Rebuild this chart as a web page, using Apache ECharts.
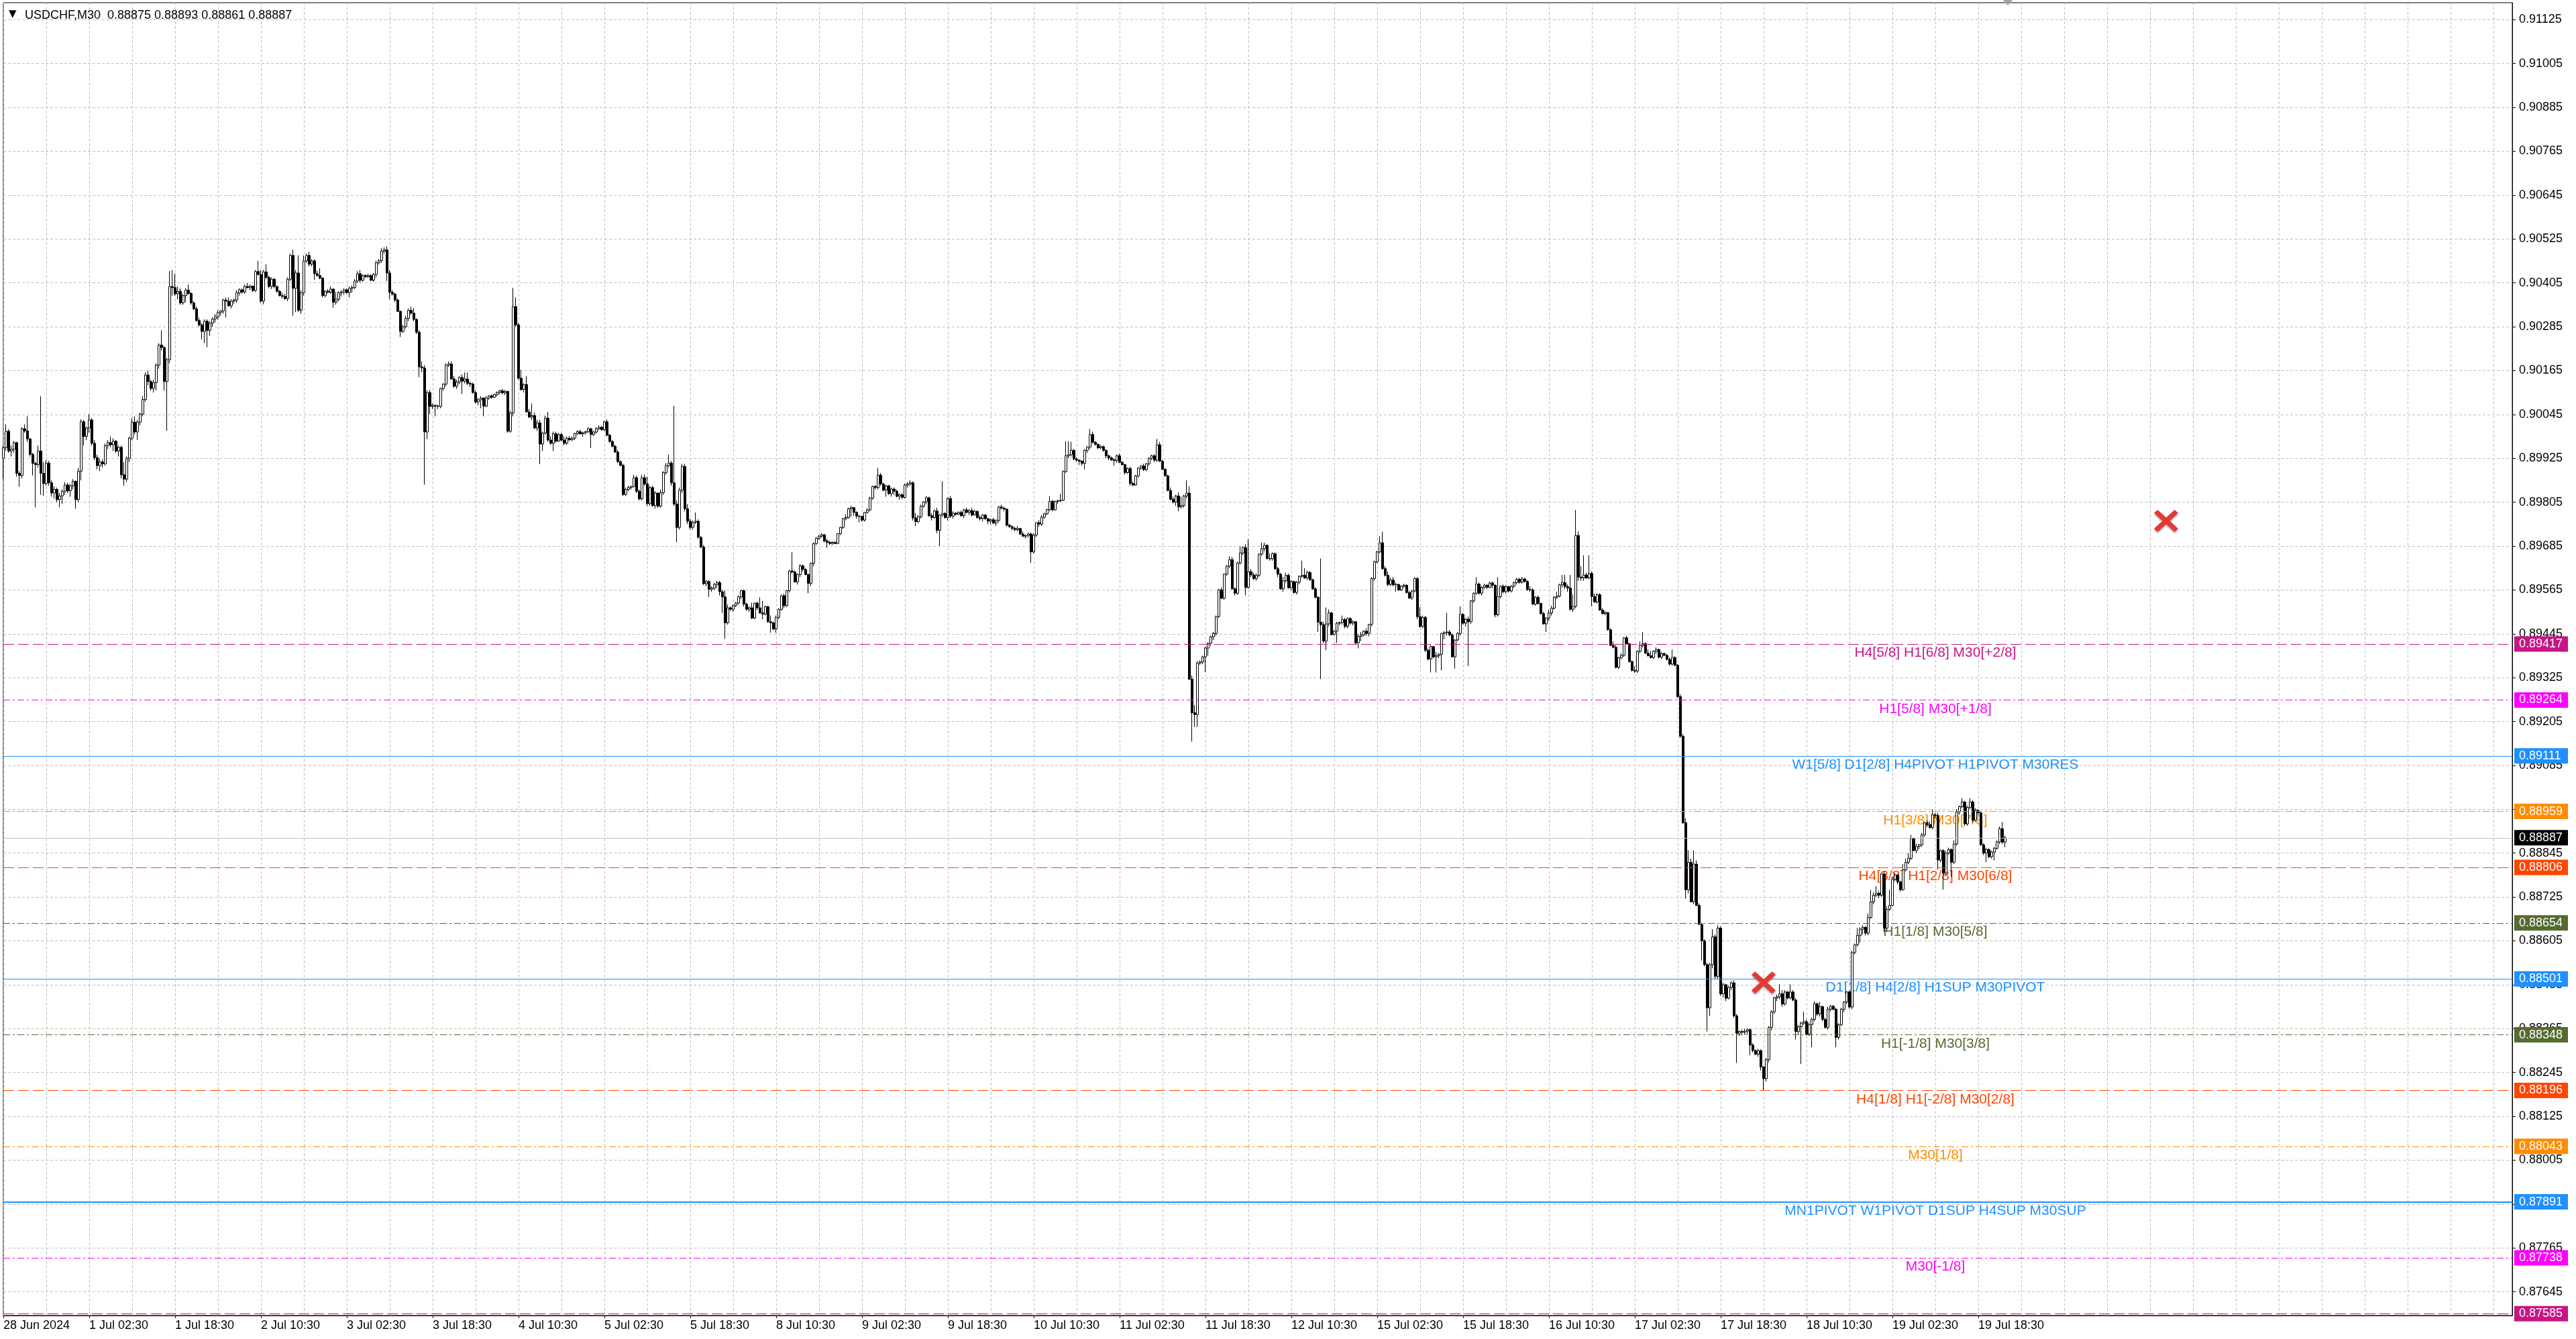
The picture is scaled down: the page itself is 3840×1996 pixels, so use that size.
<!DOCTYPE html>
<html>
<head>
<meta charset="utf-8">
<script src="https://cdn.jsdelivr.net/npm/echarts@6/dist/echarts.min.js"></script>
<style>html,body{margin:0;padding:0;background:#fff;}#chart{width:3840px;height:1996px;}</style>
</head>
<body>
<div id="chart"></div>
<script>
// ---- DATA (prices in points of 0.00001 above BASE) ----
const SYMBOL = 'USDCHF';
const TIMEFRAME = 'M30';
const BASE = 0.88;
const FIRST_BAR_UTC = [2024, 5, 28, 10, 30]; // 28 Jun 2024 10:30
const TOTAL_SLOTS = 936;                       // bar slots shown (incl. empty right shift)

// [open, high, low, close]
const fri28Jun = [
[1925,1960,1868,1954],[1954,2018,1945,1999],[1999,2005,1940,1945],[1945,1960,1930,1950],[1950,1972,1940,1968],
[1968,1970,1875,1884],[1884,1890,1847,1878],[1878,2010,1870,2006],[2006,2018,1995,2000],[2000,2040,1970,1978],
[1978,1980,1930,1936],[1936,1940,1878,1911],[1911,1915,1791,1908],[1908,1960,1900,1945],[1945,2095,1825,1884],
[1884,1915,1822,1856],[1856,1920,1850,1912],[1912,1918,1850,1858],[1858,1865,1820,1830],[1830,1848,1815,1840],
[1840,1845,1805,1812],[1812,1830,1791,1822],[1822,1840,1800,1835],[1835,1860,1825,1852],[1852,1858,1830,1836],
[1836,1855,1820,1850],[1850,1868,1840,1862]
];
const week1Jul = [
[1862,1865,1787,1812],[1812,1899,1805,1890],[1890,2032,1865,2025],[2025,2030,1960,1985],[1985,2012,1975,2008],
[2008,2046,1995,2030],[2030,2035,1960,1966],[1966,1975,1920,1927],[1927,1935,1895,1905],[1905,1925,1890,1915],
[1915,1922,1900,1910],[1910,1965,1905,1960],[1960,1975,1950,1968],[1968,1985,1955,1962],[1962,1980,1945,1972],
[1972,1975,1940,1945],[1945,1960,1930,1955],[1955,1960,1870,1880],[1880,1915,1850,1868],[1868,1930,1860,1925],
[1925,1985,1915,1980],[1980,2035,1975,2024],[2024,2040,1990,1997],[1997,2030,1975,2024],[2024,2050,2015,2046],
[2046,2095,2040,2086],[2086,2160,2080,2153],[2153,2165,2125,2135],[2135,2140,2110,2116],[2116,2140,2105,2132],
[2132,2185,2110,2180],[2180,2240,2170,2235],[2235,2275,2220,2228],[2228,2232,2110,2135],[2135,2200,2000,2195],
[2195,2437,2185,2395],[2395,2440,2370,2392],[2392,2430,2370,2375],[2375,2395,2360,2382],[2382,2390,2345,2350],
[2350,2375,2345,2370],[2370,2390,2352,2385],[2385,2400,2372,2376],[2376,2380,2345,2350],[2350,2355,2330,2334],
[2334,2340,2298,2302],[2302,2310,2285,2290],[2290,2295,2250,2272],[2272,2305,2240,2300],[2300,2305,2229,2275],
[2275,2300,2260,2295],[2295,2310,2285,2306],[2306,2320,2296,2312],[2312,2330,2305,2324],[2324,2330,2315,2328],
[2328,2362,2320,2358],[2358,2365,2310,2355],[2355,2365,2340,2342],[2342,2360,2335,2355],[2355,2362,2348,2358],
[2358,2385,2350,2378],[2378,2390,2370,2386],[2386,2390,2375,2380],[2380,2400,2375,2395],[2395,2405,2390,2392],
[2392,2400,2385,2396],[2396,2398,2380,2384],[2384,2440,2380,2436],[2436,2465,2425,2428],[2428,2440,2350,2355],
[2355,2440,2346,2435],[2435,2456,2415,2420],[2420,2425,2390,2395],[2395,2420,2388,2415],[2415,2418,2390,2395],
[2395,2398,2378,2382],[2382,2385,2368,2370],[2370,2378,2362,2368],[2368,2375,2358,2362],[2362,2420,2355,2415],
[2415,2485,2410,2480],[2480,2496,2315,2390],[2390,2440,2325,2432],[2432,2480,2325,2330],[2330,2385,2320,2378],
[2378,2480,2370,2465],[2465,2485,2460,2480],[2480,2490,2450,2456],[2456,2470,2450,2465],[2465,2470,2413,2430],
[2430,2438,2422,2425],[2425,2445,2415,2418],[2418,2420,2365,2370],[2370,2385,2365,2382],[2382,2388,2376,2379],
[2379,2395,2375,2388],[2388,2390,2337,2352],[2352,2380,2345,2360],[2360,2382,2355,2378],[2378,2385,2368,2380],
[2380,2390,2372,2386],[2386,2390,2375,2378],[2378,2395,2365,2390],[2390,2398,2378,2392],[2392,2415,2388,2410],
[2410,2437,2405,2430],[2430,2440,2405,2412],[2412,2428,2408,2425],[2425,2428,2418,2422],[2422,2430,2418,2425],
[2425,2428,2410,2412],[2412,2432,2408,2428],[2428,2465,2420,2460],[2460,2470,2455,2466],[2466,2500,2460,2492],
[2492,2502,2485,2495],[2495,2505,2410,2432],[2432,2440,2360,2379],[2379,2385,2370,2374],[2374,2378,2352,2358],
[2358,2362,2325,2327],[2327,2330,2257,2272],[2272,2290,2268,2285],[2285,2315,2280,2308],[2308,2335,2300,2330],
[2330,2340,2318,2322],[2322,2336,2300,2305],[2305,2308,2265,2270],[2270,2275,2147,2175],[2175,2190,2160,2172],
[2172,2180,1853,1997],[1997,2110,1978,2105],[2105,2112,2045,2067],[2067,2075,2060,2070],[2070,2072,2040,2068],
[2068,2072,2060,2067],[2067,2118,2062,2116],[2116,2130,2110,2128],[2128,2185,2122,2180],[2180,2190,2175,2183],
[2183,2190,2140,2142],[2142,2150,2118,2122],[2122,2140,2115,2134],[2134,2150,2128,2146],[2146,2155,2101,2136],
[2136,2160,2130,2142],[2142,2160,2125,2130],[2130,2135,2120,2128],[2128,2132,2102,2105],[2105,2110,2075,2079],
[2079,2090,2070,2085],[2085,2095,2062,2090],[2090,2092,2040,2068],[2068,2095,2065,2090],[2090,2098,2085,2096],
[2096,2100,2088,2092],[2092,2102,2090,2099],[2099,2108,2094,2105],[2105,2112,2100,2110],[2110,2115,2100,2104],
[2104,2112,2098,2108],[2108,2110,1995,1999],[1999,2055,1995,2049],[2049,2391,2040,2340],[2340,2365,2285,2290],
[2290,2295,2140,2144],[2144,2167,2110,2113],[2113,2130,2105,2127],[2127,2150,2050,2052],[2052,2060,2035,2038],
[2038,2075,2030,2042],[2042,2050,2005,2008],[2008,2030,2000,2022],[2022,2030,1909,1964],[1964,1998,1945,1994],
[1994,2041,1990,2035],[2035,2052,1970,1975],[1975,1985,1962,1966],[1966,1998,1945,1992],[1992,1998,1968,1972],
[1972,1995,1970,1990],[1990,1995,1972,1975],[1975,1985,1960,1966],[1966,1985,1962,1980],[1980,1986,1972,1976],
[1976,1985,1972,1980],[1980,1995,1975,1993],[1993,2002,1988,1998],[1998,2003,1990,1992],[1992,1998,1984,1995],
[1995,2000,1990,1998],[1998,2010,1994,2006],[2006,2008,1953,1990],[1990,2000,1985,1997],[1997,2010,1992,2006],
[2006,2015,2002,2010],[2010,2013,2000,2003],[2003,2028,2000,2025],[2025,2032,1985,1988],[1988,1992,1968,1971],
[1971,1975,1955,1958],[1958,1962,1940,1942],[1942,1948,1912,1916],[1916,1920,1903,1906],[1906,1910,1822,1826],
[1826,1845,1822,1840],[1840,1850,1835,1845],[1845,1850,1840,1848],[1848,1880,1845,1872],[1872,1878,1830,1835],
[1835,1840,1810,1814],[1814,1880,1810,1872],[1872,1880,1850,1855],[1855,1875,1795,1801],[1801,1850,1795,1845],
[1845,1850,1792,1796],[1796,1835,1788,1830],[1830,1832,1790,1794],[1794,1840,1790,1831],[1831,1890,1825,1886],
[1886,1912,1880,1905],[1905,1935,1900,1912],[1912,1918,1850,1858],[1858,2069,1795,1800],[1800,1810,1695,1736],
[1736,1845,1730,1838],[1838,1910,1830,1903],[1903,1910,1780,1787],[1787,1800,1745,1753],[1753,1760,1730,1736],
[1736,1755,1730,1750],[1750,1777,1745,1753],[1753,1758,1705,1709],[1709,1712,1680,1682],[1682,1688,1578,1582],
[1582,1592,1575,1588],[1588,1592,1546,1567],[1567,1575,1560,1570],[1570,1585,1565,1580],[1580,1590,1570,1585]
];
const week8Jul = [
[1585,1590,1550,1560],[1560,1565,1502,1546],[1546,1563,1431,1475],[1475,1525,1470,1516],[1516,1520,1508,1512],
[1512,1525,1505,1522],[1522,1532,1518,1529],[1529,1550,1525,1546],[1546,1565,1540,1563],[1563,1566,1520,1526],
[1526,1530,1508,1512],[1512,1520,1505,1516],[1516,1530,1485,1488],[1488,1530,1485,1529],[1529,1533,1510,1516],
[1516,1545,1500,1502],[1502,1535,1485,1499],[1499,1522,1495,1519],[1519,1522,1475,1478],[1478,1495,1448,1475],
[1475,1478,1455,1458],[1458,1495,1448,1490],[1490,1515,1485,1512],[1512,1552,1508,1549],[1549,1555,1515,1522],
[1522,1565,1518,1563],[1563,1620,1558,1617],[1617,1668,1610,1614],[1614,1618,1585,1587],[1587,1610,1580,1607],
[1607,1635,1600,1631],[1631,1634,1615,1621],[1621,1625,1605,1607],[1607,1610,1556,1583],[1583,1640,1575,1638],
[1638,1695,1630,1692],[1692,1710,1688,1706],[1706,1715,1702,1712],[1712,1720,1708,1716],[1716,1718,1695,1699],
[1699,1705,1680,1695],[1695,1700,1688,1692],[1692,1698,1688,1695],[1695,1698,1690,1692],[1692,1720,1690,1719],
[1719,1738,1715,1736],[1736,1762,1732,1760],[1760,1772,1755,1763],[1763,1790,1760,1787],[1787,1795,1765,1790],
[1790,1792,1768,1777],[1777,1780,1760,1767],[1767,1770,1750,1766],[1766,1768,1752,1756],[1756,1778,1752,1777],
[1777,1788,1774,1784],[1784,1820,1780,1816],[1816,1850,1812,1848],[1848,1852,1840,1845],[1845,1899,1840,1879],
[1879,1885,1850,1855],[1855,1858,1835,1838],[1838,1852,1820,1850],[1850,1852,1825,1828],[1828,1845,1820,1841],
[1841,1845,1825,1835],[1835,1840,1818,1821],[1821,1828,1812,1825],[1825,1830,1814,1818],[1818,1856,1815,1852],
[1852,1860,1845,1855],[1855,1865,1850,1858],[1858,1862,1755,1762],[1762,1775,1740,1752],[1752,1770,1748,1765],
[1765,1798,1760,1794],[1794,1808,1790,1806],[1806,1822,1800,1817],[1817,1820,1765,1768],[1768,1775,1755,1763],
[1763,1785,1760,1781],[1781,1790,1720,1728],[1728,1772,1685,1770],[1770,1862,1765,1774],[1774,1778,1760,1763],
[1763,1818,1755,1815],[1815,1822,1762,1767],[1767,1780,1760,1775],[1775,1778,1768,1772],[1772,1780,1770,1777],
[1777,1782,1765,1768],[1768,1787,1762,1784],[1784,1790,1775,1777],[1777,1786,1770,1782],[1782,1790,1766,1770],
[1770,1784,1768,1780],[1780,1782,1760,1763],[1763,1770,1755,1760],[1760,1772,1752,1770],[1770,1772,1756,1760],
[1760,1762,1745,1753],[1753,1760,1745,1757],[1757,1762,1745,1748],[1748,1758,1740,1755],[1755,1795,1750,1792],
[1792,1798,1785,1789],[1789,1792,1780,1786],[1786,1788,1738,1742],[1742,1746,1735,1738],[1738,1742,1728,1733],
[1733,1738,1725,1730],[1730,1740,1725,1733],[1733,1735,1715,1718],[1718,1725,1710,1712],[1712,1716,1705,1714],
[1714,1722,1708,1718],[1718,1722,1639,1669],[1669,1720,1665,1715],[1715,1750,1710,1749],[1749,1756,1738,1745],
[1745,1770,1740,1764],[1764,1776,1760,1773],[1773,1787,1770,1785],[1785,1822,1780,1807],[1807,1812,1780,1784],
[1784,1810,1782,1807],[1807,1812,1800,1809],[1809,1828,1805,1810],[1810,1892,1808,1889],[1889,1972,1885,1932],
[1932,1972,1925,1935],[1935,1970,1930,1947],[1947,1950,1920,1923],[1923,1928,1915,1920],[1920,1922,1907,1917],
[1917,1920,1905,1911],[1911,1950,1895,1947],[1947,1958,1940,1956],[1956,2005,1950,1990],[1990,1998,1965,1969],
[1969,1972,1960,1963],[1963,1966,1950,1954],[1954,1962,1950,1957],[1957,1960,1943,1947],[1947,1950,1925,1932],
[1932,1935,1920,1926],[1926,1930,1918,1921],[1921,1925,1905,1919],[1919,1935,1912,1932],[1932,1938,1912,1914],
[1914,1918,1905,1908],[1908,1910,1880,1886],[1886,1900,1882,1897],[1897,1902,1850,1856],[1856,1862,1848,1852],
[1852,1880,1850,1877],[1877,1900,1872,1898],[1898,1906,1894,1904],[1904,1910,1890,1894],[1894,1912,1890,1910],
[1910,1928,1905,1925],[1925,1935,1920,1932],[1932,1936,1915,1920],[1920,1978,1915,1962],[1962,1970,1915,1917],
[1917,1920,1893,1895],[1895,1898,1875,1877],[1877,1880,1835,1837],[1837,1845,1810,1813],[1813,1820,1802,1805],
[1805,1825,1795,1822],[1822,1832,1780,1792],[1792,1820,1788,1796],[1796,1825,1790,1822],[1822,1865,1815,1830],
[1830,1848,1318,1321],[1321,1331,1150,1229],[1229,1250,1190,1224],[1224,1370,1190,1365],[1365,1372,1360,1368],
[1368,1385,1362,1382],[1382,1410,1340,1406],[1406,1422,1385,1419],[1419,1440,1412,1437],[1437,1450,1428,1446],
[1446,1495,1440,1492],[1492,1568,1488,1565],[1565,1572,1540,1542],[1542,1610,1538,1608],[1608,1633,1604,1630],
[1630,1657,1625,1648],[1648,1655,1565,1568],[1568,1572,1550,1556],[1556,1642,1552,1639],[1639,1684,1635,1666],
[1666,1684,1660,1681],[1681,1690,1550,1572],[1572,1703,1568,1615],[1615,1622,1600,1606],[1606,1612,1592,1596],
[1596,1610,1590,1605],[1605,1665,1600,1663],[1663,1694,1658,1678],[1678,1694,1670,1687],[1687,1690,1648,1651],
[1651,1665,1645,1650],[1650,1668,1645,1664],[1664,1668,1620,1623],[1623,1628,1600,1608],[1608,1612,1565,1568],
[1568,1600,1560,1590],[1590,1612,1585,1605],[1605,1610,1568,1571],[1571,1592,1565,1588],[1588,1590,1555,1558],
[1558,1590,1552,1586],[1586,1605,1580,1602],[1602,1645,1598,1605],[1605,1625,1595,1598],[1598,1618,1592,1613],
[1613,1616,1590,1593],[1593,1596,1565,1568],[1568,1572,1542,1545],[1545,1548,1450,1477],[1477,1651,1321,1470],
[1470,1478,1420,1425],[1425,1517,1400,1472],[1472,1512,1465,1502],[1502,1505,1440,1443],[1443,1455,1440,1452],
[1452,1478,1420,1474],[1474,1478,1468,1476],[1476,1495,1470,1484],[1484,1488,1460,1465],[1465,1490,1460,1487],
[1487,1490,1470,1474],[1474,1482,1468,1478],[1478,1480,1416,1420],[1420,1445,1405,1438],[1438,1450,1425,1442]
];
const week15Jul = [
[1442,1455,1438,1452],[1452,1460,1440,1446],[1446,1472,1438,1471],[1471,1600,1465,1596],[1596,1645,1590,1642],
[1642,1672,1638,1669],[1669,1712,1665,1694],[1694,1724,1620,1623],[1623,1630,1602,1605],[1605,1616,1575,1580],
[1580,1598,1575,1592],[1592,1600,1575,1579],[1579,1585,1560,1580],[1580,1582,1562,1565],[1565,1578,1562,1575],
[1575,1582,1570,1578],[1578,1580,1555,1558],[1558,1562,1540,1543],[1543,1565,1538,1562],[1562,1600,1558,1596],
[1596,1600,1485,1492],[1492,1518,1462,1465],[1465,1495,1460,1490],[1490,1494,1395,1400],[1400,1405,1372,1376],
[1376,1414,1339,1410],[1410,1412,1378,1382],[1382,1395,1339,1385],[1385,1392,1378,1389],[1389,1448,1345,1446],
[1446,1452,1430,1448],[1448,1502,1440,1450],[1450,1455,1438,1442],[1442,1446,1380,1382],[1382,1430,1350,1428],
[1428,1450,1425,1446],[1446,1520,1440,1498],[1498,1502,1470,1474],[1474,1488,1465,1485],[1485,1492,1357,1478],
[1478,1538,1472,1535],[1535,1558,1530,1556],[1556,1600,1552,1581],[1581,1585,1552,1556],[1556,1575,1550,1572],
[1572,1582,1568,1578],[1578,1580,1568,1572],[1572,1588,1570,1584],[1584,1588,1570,1578],[1578,1580,1490,1497],
[1497,1600,1492,1547],[1547,1578,1542,1575],[1575,1580,1556,1560],[1560,1578,1555,1574],[1574,1576,1558,1562],
[1562,1578,1558,1575],[1575,1588,1570,1585],[1585,1598,1580,1594],[1594,1598,1582,1586],[1586,1600,1582,1595],
[1595,1598,1585,1588],[1588,1592,1562,1566],[1566,1575,1560,1565],[1565,1570,1524,1526],[1526,1548,1522,1545],
[1545,1550,1525,1528],[1528,1530,1498,1500],[1500,1505,1470,1472],[1472,1490,1450,1488],[1488,1510,1480,1502],
[1502,1522,1495,1515],[1515,1548,1512,1545],[1545,1560,1540,1548],[1548,1582,1545,1579],[1579,1606,1572,1585],
[1585,1606,1568,1574],[1574,1580,1560,1570],[1570,1606,1508,1512],[1512,1553,1505,1520],[1520,1784,1515,1714],
[1714,1725,1590,1600],[1600,1630,1590,1598],[1598,1660,1590,1606],[1606,1612,1595,1598],[1598,1660,1595,1610],
[1610,1615,1520,1547],[1547,1555,1530,1532],[1532,1555,1528,1552],[1552,1556,1508,1510],[1510,1515,1498,1500],
[1500,1508,1496,1503],[1503,1505,1454,1456],[1456,1460,1411,1413],[1413,1424,1405,1408],[1408,1414,1350,1353],
[1353,1382,1348,1380],[1380,1392,1375,1386],[1386,1436,1382,1434],[1434,1440,1416,1418],[1418,1420,1366,1369],
[1369,1372,1342,1345],[1345,1356,1338,1343],[1343,1400,1338,1397],[1397,1424,1392,1413],[1413,1450,1408,1418],
[1418,1422,1390,1392],[1392,1402,1383,1385],[1385,1398,1378,1380],[1380,1400,1376,1397],[1397,1408,1390,1402],
[1402,1405,1378,1381],[1381,1395,1376,1391],[1391,1394,1384,1386],[1386,1390,1372,1375],[1375,1380,1358,1362],
[1362,1402,1358,1380],[1380,1384,1356,1359],[1359,1362,1270,1273],[1273,1280,1160,1165],[1165,1170,925,928],
[928,940,720,745],[745,853,735,820],[820,830,710,712],[712,853,705,815],[815,825,700,702],
[702,708,648,650],[650,655,551,605],[605,610,535,540],[540,545,357,422],[422,545,400,540],
[540,637,530,616],[616,622,500,508],[508,648,500,640],[640,645,455,460],[460,490,450,485],
[485,488,440,448],[448,482,445,478],[478,495,470,490],[490,497,395,400],[400,405,271,352],
[352,360,345,357],[357,362,350,355],[355,365,348,358],[358,365,350,362],[362,366,292,320],
[320,325,300,305],[305,308,292,295],[295,310,288,305],[305,308,250,260],[260,262,196,228],
[228,285,220,280],[280,372,272,368],[368,415,360,411],[411,452,405,449],[449,458,440,452],
[452,486,445,460],[460,470,425,432],[432,470,428,465],[465,468,445,449],[449,486,445,465],
[465,470,440,443],[443,448,335,357],[357,375,350,370],[370,384,268,380],[380,411,375,384],
[384,390,346,350],[350,382,345,376],[376,395,314,390],[390,440,385,433],[433,436,400,405],
[405,438,398,425],[425,428,385,390],[390,395,365,368],[368,425,362,418],[418,430,412,426],
[426,430,415,418],[418,422,314,341],[341,380,335,376],[376,422,372,418],[418,440,410,438],
[438,468,432,465],[465,468,420,424],[424,578,418,573],[573,598,568,594],[594,640,590,620],
[620,642,600,637],[637,648,622,642],[642,645,620,626],[626,680,620,669],[669,745,665,712],
[712,738,705,730],[730,755,725,735],[735,742,722,730],[730,790,725,788],[788,795,630,640],
[640,700,630,691],[691,745,688,702],[702,780,700,773],[773,790,768,785],[785,788,760,766],
[766,770,740,745],[745,815,742,799],[799,830,795,820],[820,845,815,831],[831,895,826,885],
[885,888,850,852],[852,870,845,863],[863,870,855,868],[868,900,862,895],[895,930,890,928],
[928,935,918,923],[923,932,912,915],[915,965,910,950],[950,955,940,948],[948,955,800,826],
[826,855,820,852],[852,856,745,790],[790,850,785,845],[845,860,840,855],[855,858,780,820],
[820,880,815,870],[870,965,865,958],[958,975,950,972],[972,995,968,985],[985,988,920,925],
[925,975,920,970],[970,995,965,985],[985,990,928,935],[935,968,930,962],[962,965,948,955],
[955,960,865,868],[868,872,840,845],[845,860,820,855],[855,858,832,835],[835,852,830,848],
[848,862,825,858],[858,880,855,876],[876,918,870,912],[912,930,870,875],[875,893,861,887]
];

// y-axis tick labels
const yTickLabels = [0.87645,0.87765,0.87885,0.88005,0.88125,0.88245,0.88365,0.88485,0.88605,0.88725,
  0.88845,0.88965,0.89085,0.89205,0.89325,0.89445,0.89565,0.89685,0.89805,0.89925,
  0.90045,0.90165,0.90285,0.90405,0.90525,0.90645,0.90765,0.90885,0.91005,0.91125];
const yRange = [0.875801, 0.911714];

// Murrey-style levels
const levelPrices = [0.89417,0.89264,0.89111,0.88959,0.88806,0.88654,0.88501,0.88348,0.88196,0.88043,0.87891,0.87738,0.87585];
const levelTexts = ['H4[5/8] H1[6/8] M30[+2/8]','H1[5/8] M30[+1/8]','W1[5/8] D1[2/8] H4PIVOT H1PIVOT M30RES',
  'H1[3/8] M30[7/8]','H4[3/8] H1[2/8] M30[6/8]','H1[1/8] M30[5/8]','D1[1/8] H4[2/8] H1SUP M30PIVOT',
  'H1[-1/8] M30[3/8]','H4[1/8] H1[-2/8] M30[2/8]','M30[1/8]','MN1PIVOT W1PIVOT D1SUP H4SUP M30SUP','M30[-1/8]',''];
const levelColors = ['#C71585','#FF00FF','#1E90FF','#FF8C00','#FF4500','#556B2F','#1E90FF','#556B2F','#FF4500','#FF8C00','#1E90FF','#FF00FF','#C71585'];
const levelStyles = ['dash','dashdot','solid','dashdot','dash','dashdot','solid','dashdot','dash','dashdot','solid','dashdot','dash'];
const levelWidths = [1,1,1,1,1,1,1,1,1,1,2,1,1];
const levelTextSlot = 720;

const crossMarks = [[806, 0.89754], [656, 0.88491]];

// ---- BUILD ----
const FONT = "'Liberation Sans', Arial, sans-serif";
const MONTHS = ['Jan','Feb','Mar','Apr','May','Jun','Jul','Aug','Sep','Oct','Nov','Dec'];
const pad2 = n => (n < 10 ? '0' : '') + n;
const bars = [].concat(fri28Jun, week1Jul, week8Jul, week15Jul);
const lastIndex = bars.length - 1;
const toPrice = v => +(BASE + v / 100000).toFixed(5);

const categories = [];
let t = Date.UTC.apply(null, FIRST_BAR_UTC);
while (categories.length < TOTAL_SLOTS) {
  const d = new Date(t);
  const wd = d.getUTCDay();
  if (wd !== 0 && wd !== 6) {
    categories.push(categories.length === 0
      ? d.getUTCDate() + ' ' + MONTHS[d.getUTCMonth()] + ' ' + d.getUTCFullYear()
      : d.getUTCDate() + ' ' + MONTHS[d.getUTCMonth()] + ' ' + pad2(d.getUTCHours()) + ':' + pad2(d.getUTCMinutes()));
  }
  t += 30 * 60 * 1000;
}

const candleData = bars.map(b => [toPrice(b[0]), toPrice(b[3]), toPrice(b[2]), toPrice(b[1])]);
const last = bars[lastIndex].map(toPrice);
const currentPrice = last[3];
const header = SYMBOL + ',' + TIMEFRAME + '  ' + last.map(v => v.toFixed(5)).join(' ');

const dashMap = { dash: [16, 6], dashdot: [10, 4, 3, 4], solid: 'solid' };

const markLines = levelPrices.map((p, i) => ({
  yAxis: p,
  lineStyle: { color: levelColors[i], type: dashMap[levelStyles[i]], width: levelWidths[i], opacity: 1 },
  label: { backgroundColor: levelColors[i] }
}));
markLines.push({
  yAxis: currentPrice,
  lineStyle: { color: '#C0C0C0', type: 'solid', width: 1, opacity: 1 },
  label: { backgroundColor: '#000000' }
});

const levelTextData = levelPrices.map((p, i) => ({
  value: [levelTextSlot, p],
  name: levelTexts[i],
  label: { color: levelColors[i] }
})).filter(d => d.name);

const chart = echarts.init(document.getElementById('chart'), null, { renderer: 'canvas' });
chart.setOption({
  animation: false,
  backgroundColor: '#ffffff',
  textStyle: { fontFamily: FONT },
  title: [
    { text: '▼', left: 8, top: 9, textStyle: { fontSize: 15, color: '#000', fontFamily: "'DejaVu Sans', sans-serif", fontWeight: 'normal' } },
    { text: header, left: 32, top: 9, textStyle: { fontSize: 18, color: '#000', fontFamily: FONT, fontWeight: 'normal' } }
  ],
  grid: { left: 5, right: 95, top: 4, bottom: 35, show: true, borderColor: '#000', borderWidth: 1, backgroundColor: 'transparent' },
  xAxis: {
    type: 'category',
    data: categories,
    boundaryGap: false,
    axisLine: { show: true, lineStyle: { color: '#000', width: 1 } },
    axisTick: { show: true, length: 4, lineStyle: { color: '#000' },
      interval: (idx) => idx % 32 === 0 && idx <= lastIndex },
    axisLabel: { show: true, align: 'left', margin: 6, fontSize: 18, color: '#000', fontFamily: FONT,
      interval: (idx) => idx % 32 === 0 && idx <= lastIndex },
    splitLine: { show: true, interval: (idx) => idx % 16 === 0,
      lineStyle: { color: '#C0C0C0', type: [4, 3], width: 1 } }
  },
  yAxis: {
    type: 'value',
    position: 'right',
    min: yRange[0],
    max: yRange[1],
    scale: true,
    axisLine: { show: true, lineStyle: { color: '#000', width: 1 } },
    axisTick: { show: true, length: 5, lineStyle: { color: '#000' }, customValues: yTickLabels },
    axisLabel: { show: true, margin: 10, fontSize: 18, color: '#000', fontFamily: FONT,
      customValues: yTickLabels, formatter: v => Number(v).toFixed(5) },
    splitLine: { show: true, lineStyle: { color: '#C0C0C0', type: [4, 3], width: 1 } }
  },
  series: [
    {
      type: 'scatter',
      name: 'levelText',
      z: 1,
      silent: true,
      symbolSize: 0,
      itemStyle: { opacity: 1 },
      data: levelTextData,
      label: { show: true, position: 'bottom', distance: 3, fontSize: 21, fontFamily: FONT, opacity: 1,
        formatter: p => p.name }
    },
    {
      type: 'candlestick',
      name: SYMBOL,
      z: 2,
      large: false,
      barWidth: 3,
      data: candleData,
      itemStyle: { color: '#ffffff', color0: '#000000', borderColor: '#000000', borderColor0: '#000000', borderWidth: 1 }
    },
    {
      type: 'line',
      name: 'levels',
      z: 3,
      data: [],
      clip: false,
      silent: true,
      markLine: {
        silent: true,
        precision: 5,
        symbol: ['none', 'none'],
        animation: false,
        label: { show: true, position: 'end', distance: 3, color: '#ffffff', fontSize: 18, fontFamily: FONT,
          lineHeight: 18, padding: [3, 7, 2, 7], width: 66,
          formatter: p => Number(p.value).toFixed(5) },
        emphasis: { disabled: true },
        data: markLines
      }
    },
    {
      type: 'scatter',
      name: 'marks',
      z: 5,
      silent: true,
      symbol: 'path://M3,0 L10,7 L17,0 L20,3 L13,10 L20,17 L17,20 L10,13 L3,20 L0,17 L7,10 L0,3 Z',
      symbolSize: [36, 33],
      itemStyle: { color: '#E53935', opacity: 1, shadowBlur: 3, shadowColor: 'rgba(0,0,0,0.35)', shadowOffsetY: 2 },
      data: crossMarks
    },
    {
      type: 'scatter',
      name: 'shift',
      z: 5,
      silent: true,
      clip: false,
      symbol: 'triangle',
      symbolRotate: 180,
      symbolSize: [14, 8],
      itemStyle: { color: '#A0A0A0', opacity: 1 },
      data: [[lastIndex + 1, yRange[1]]]
    }
  ]
});
</script>
</body>
</html>
